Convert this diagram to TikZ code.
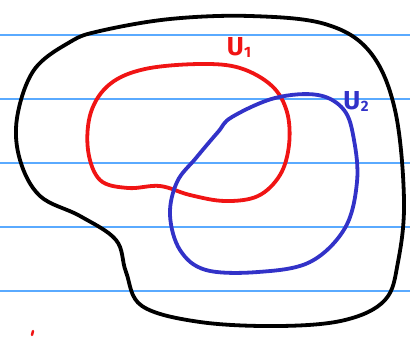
\documentclass[tikz,border=0pt]{standalone}
\usepackage{fontspec}
\setmainfont{Fira Sans}
\definecolor{ruled}{HTML}{5AAAFF}
\definecolor{penred}{HTML}{F01414}
\definecolor{penblue}{HTML}{3232C8}
\newcommand{\setname}[1]{{\bfseries\fontsize{26}{26}\selectfont U\kern0.5pt\raisebox{-2pt}{\fontsize{15}{15}\selectfont #1}}}
\tikzset{
  ruling/.style={ruled, line width=1.3pt},
  pen/.style={line width=3.8pt, line cap=round, line join=round},
  setlabel/.style={inner sep=0pt}
}
\begin{document}
\begin{tikzpicture}[x=1pt,y=-1pt]
    \useasboundingbox (0,0) rectangle (410,338);

    % ruled paper
    \foreach \y in {35,99,163,227,291}
        \draw[ruling] (0,\y) -- (410,\y);

    % the whole space
    \draw[pen, black] plot[smooth cycle, tension=0.6] coordinates {
        (100,31) (170,19) (250,16) (325,24) (370,52) (395,110)
        (404,200) (398,262) (385,300) (345,320) (280,326)
        (200,322) (142,306) (126,272) (116,240) (80,216)
        (40,196) (20,160) (17,118) (34,70) (70,42)};

    % U1
    \draw[pen, penred] plot[smooth cycle, tension=0.6] coordinates {
        (145,69) (200,64) (240,68) (272,86) (287,112) (289,145)
        (280,175) (258,196) (225,201) (190,195) (160,186)
        (128,188) (100,180) (88,150) (91,112) (110,84)};

    % U2
    \draw[pen, penblue] plot[smooth cycle, tension=0.6] coordinates {
        (232,117) (275,98) (318,95) (344,110) (354,140)
        (357,182) (345,228) (310,262) (258,272) (206,270)
        (180,250) (170,215) (177,182) (196,158) (218,132)};

    % labels
    \node[setlabel, penred] (labone) at (239,47) {\setname{1}};
    \node[setlabel, penblue] (labtwo) at (356,101) {\setname{2}};

    % stray mark
    \draw[penred, line width=2.5pt, line cap=round] (33,331) -- (32,335);
\end{tikzpicture}
\end{document}
